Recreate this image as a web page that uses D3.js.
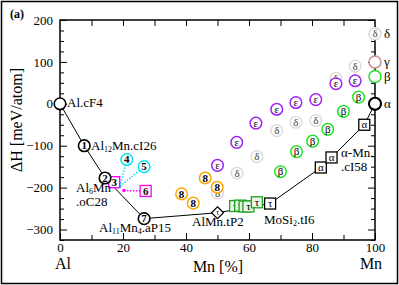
<!DOCTYPE html>
<html lang="en">
<head>
<meta charset="utf-8">
<title>Al-Mn formation enthalpy</title>
<script src="https://cdnjs.cloudflare.com/ajax/libs/d3/7.8.5/d3.min.js"></script>
<style>
  body { margin: 0; background: #fff; }
</style>
</head>
<body>
<script>
// data: [Mn %, dH meV/atom, label]
var hull = [[0, 0], [7.7, -100], [14.3, -177], [26.7, -274], [50, -260], [66.7, -238], [82.8, -152], [86.2, -128], [96.6, -50], [100, 0]];
var hullCircles = [[0, 0, ""], [7.7, -100, "1"], [14.3, -177, "2"], [26.7, -274, "7"], [100, 0, ""]];
var hullSquares = [[66.7, -238, "τ"], [82.8, -152, "α"], [86.2, -128, "α"], [96.6, -50, "α"]];
var diamond = [[50, -260, "τ"]];
var tauGreen = [[55.6, -244], [57.2, -243], [58.6, -245], [59.8, -245], [62.5, -235]];
var deltaPts = [[50, -213], [56.2, -165], [62.5, -126], [68.8, -64], [74.9, -44], [81.2, -40], [87.6, 61], [93.7, 90]];
var epsPts = [[50, -147], [56.1, -92], [62.2, -46], [68.8, -13], [74.9, 3], [81.2, 10], [87.6, 48], [93.7, 55]];
var betaPts = [[70, -162], [75.1, -114], [80.2, -89], [85, -61], [90, -18], [94.8, 16]];
var eightPts = [[38.6, -215], [42.3, -237], [46.1, -177], [49.9, -199]];
var cyanPts = [[21.2, -133, "4"], [26.7, -150, "5"]];
var magentaPts = [[17.2, -187, "3"], [27.2, -208, "6"]];
var cyanHub = [19, -197];
var magentaHub = [20.3, -207];
var edgePts = [[100, 167, "δ", "#d8d8d8"], [100, 100, "γ", "#c98f8f"], [100, 65, "β", "#22e022"], [100, 0, "α", "#000"]];
var xTicks = [0, 20, 40, 60, 80, 100];
var yTicks = [-300, -200, -100, 0, 100, 200];

var w = 399, h = 285;
var mLeft = 60, mRight = 375, mTop = 20, mBottom = 240;
var serif = "Liberation Serif, Times New Roman, Tinos, Noto Serif, DejaVu Serif, serif";

var svg = d3.select("body").append("svg").attr("width", w).attr("height", h);

var x = d3.scaleLinear().domain([0, 100]).range([mLeft, mRight]);
var y = d3.scaleLinear().domain([-325, 200]).range([mBottom, mTop]);

// outer frame
svg.append("rect").attr("x", 1.5).attr("y", 1.5).attr("width", w - 3).attr("height", h - 3)
   .attr("fill", "none").attr("stroke", "#000").attr("stroke-width", 1.5);

// axes, ticks pointing inward
function tidy(g) {
  g.attr("font-size", null);
  g.select(".domain").remove();
  g.selectAll("line").attr("stroke", "#000");
  g.selectAll("text").attr("fill", "#000").style("font-size", "13px");
}
var minorY = d3.range(-325, 200, 25).filter(function(v) { return v % 100 != 0; });

svg.append("g").attr("transform", "translate(0," + mBottom + ")")
   .call(d3.axisBottom(x).tickValues(xTicks).tickSize(-7).tickPadding(3)).call(tidy);
svg.append("g").attr("transform", "translate(0," + mBottom + ")")
   .call(d3.axisBottom(x).tickValues(d3.range(10, 100, 20)).tickSize(-5).tickFormat("")).call(tidy);
svg.append("g").attr("transform", "translate(0," + mTop + ")")
   .call(d3.axisTop(x).tickValues(d3.range(10, 100, 10)).tickSize(-6).tickFormat("")).call(tidy);

svg.append("g").attr("transform", "translate(" + mLeft + ",0)")
   .call(d3.axisLeft(y).tickValues(yTicks).tickSize(-7).tickPadding(7)).call(tidy);
svg.append("g").attr("transform", "translate(" + mLeft + ",0)")
   .call(d3.axisLeft(y).tickValues(minorY).tickSize(-4).tickFormat("")).call(tidy);
svg.append("g").attr("transform", "translate(" + mRight + ",0)")
   .call(d3.axisRight(y).tickValues(yTicks).tickSize(-7).tickFormat("")).call(tidy);
svg.append("g").attr("transform", "translate(" + mRight + ",0)")
   .call(d3.axisRight(y).tickValues(minorY).tickSize(-4).tickFormat("")).call(tidy);

svg.append("rect").attr("x", mLeft).attr("y", mTop).attr("width", mRight - mLeft).attr("height", mBottom - mTop)
   .attr("fill", "none").attr("stroke", "#000").attr("stroke-width", 1.5);

// axis titles
svg.append("text").attr("x", 10).attr("y", 18).text("(a)")
   .style("font-size", "12px").style("font-weight", "bold");
svg.append("text").attr("transform", "translate(22,120) rotate(-90)").attr("text-anchor", "middle")
   .style("font-size", "16px").text("ΔH  [meV/atom]");
svg.append("text").attr("x", 218).attr("y", 272).attr("text-anchor", "middle")
   .style("font-size", "16px").text("Mn  [%]");
svg.append("text").attr("x", 63).attr("y", 269).attr("text-anchor", "middle")
   .style("font-size", "16px").text("Al");
svg.append("text").attr("x", 371).attr("y", 269).attr("text-anchor", "middle")
   .style("font-size", "16px").text("Mn");

// dotted links
var plot = svg.append("g");
cyanPts.forEach(function(d) {
  plot.append("line").attr("x1", x(cyanHub[0])).attr("y1", y(cyanHub[1]))
      .attr("x2", x(d[0])).attr("y2", y(d[1]))
      .attr("stroke", "#00e5ee").attr("stroke-width", 1.5).attr("stroke-dasharray", "1.5,1.5");
});
plot.append("line").attr("x1", x(magentaHub[0])).attr("y1", y(magentaHub[1]))
    .attr("x2", x(magentaPts[1][0])).attr("y2", y(magentaPts[1][1]))
    .attr("stroke", "#ff00ff").attr("stroke-width", 1.5).attr("stroke-dasharray", "1.5,1.5");
plot.append("circle").attr("cx", x(cyanHub[0])).attr("cy", y(cyanHub[1])).attr("r", 1.8).attr("fill", "#00e5ee");
plot.append("circle").attr("cx", x(magentaHub[0])).attr("cy", y(magentaHub[1])).attr("r", 1.8).attr("fill", "#ff00ff");

// hull line
plot.append("path").datum(hull)
    .attr("d", d3.line().x(function(d) { return x(d[0]); }).y(function(d) { return y(d[1]); }))
    .attr("fill", "none").attr("stroke", "#000").attr("stroke-width", 1);

function circles(data, col, lab, bold, sw) {
  var g = plot.selectAll(null).data(data).enter().append("g")
      .attr("transform", function(d) { return "translate(" + x(d[0]) + "," + y(d[1]) + ")"; });
  g.append("circle").attr("r", 5.8).attr("fill", "#fff").attr("stroke", col).attr("stroke-width", sw || 1.5);
  g.append("text").attr("text-anchor", "middle").attr("dy", "0.33em")
   .style("font-size", "11px").style("font-weight", bold ? "bold" : "normal")
   .text(function(d) { return lab == null ? d[2] : lab; });
  return g;
}
function squares(data, col, lab, fill) {
  var g = plot.selectAll(null).data(data).enter().append("g")
      .attr("transform", function(d) { return "translate(" + x(d[0]) + "," + y(d[1]) + ")"; });
  g.append("rect").attr("x", -5.5).attr("y", -5.5).attr("width", 11).attr("height", 11)
   .attr("fill", fill || "#fff").attr("stroke", col).attr("stroke-width", 1.3);
  g.append("text").attr("text-anchor", "middle").attr("dy", "0.33em").style("font-size", "11px")
   .text(function(d) { return lab == null ? d[2] : lab; });
  return g;
}

circles(deltaPts, "#dcdcdc", "δ", false).select("text").attr("fill", "#444");
circles(epsPts, "#a020f0", "ε", false);
circles(betaPts, "#22e022", "β", false);
circles(eightPts, "#ffa500", "8", true);
circles(cyanPts, "#00e5ee", null, true);
squares(magentaPts, "#ff00ff", null).select("text").style("font-weight", "bold");
squares(tauGreen, "#1fa01f", "τ", "#e8f8e8");
squares(hullSquares, "#000", null);

var dg = plot.selectAll(null).data(diamond).enter().append("g")
    .attr("transform", function(d) { return "translate(" + x(d[0]) + "," + y(d[1]) + ")"; });
dg.append("path").attr("d", "M0,-6L6,0L0,6L-6,0Z").attr("fill", "#fff").attr("stroke", "#000").attr("stroke-width", 1.2);
dg.append("text").attr("text-anchor", "middle").attr("dy", "0.33em").style("font-size", "8px").text(function(d) { return d[2]; });

circles(hullCircles, "#000", null, true, 1.6);

// right edge phases
var eg = plot.selectAll(null).data(edgePts).enter().append("g")
    .attr("transform", function(d) { return "translate(" + x(d[0]) + "," + y(d[1]) + ")"; });
eg.append("circle").attr("r", 6).attr("fill", "#fff")
  .attr("stroke", function(d) { return d[3]; }).attr("stroke-width", function(d) { return d[2] == "α" ? 2 : 1.5; });
eg.append("text").attr("x", 9).attr("dy", "0.33em").style("font-size", "13px").text(function(d) { return d[2]; });
plot.append("text").attr("x", x(100)).attr("y", y(167)).attr("dy", "0.33em").attr("text-anchor", "middle")
    .style("font-size", "11px").attr("fill", "#444").text("δ");

// structure labels
function lab(px, py, parts) {
  var t = svg.append("text").attr("x", px).attr("y", py).style("font-size", "13px");
  parts.forEach(function(p) {
    var s = t.append("tspan").text(p[0]);
    if (p[1]) s.attr("baseline-shift", "-30%").style("font-size", "8px");
  });
}
lab(67, 107, [["Al.cF4"]]);
lab(91, 150, [["Al"], ["12", 1], ["Mn.cI26"]]);
lab(76, 192, [["Al"], ["6", 1], ["Mn"]]);
lab(76, 206, [[".oC28"]]);
lab(99, 232, [["Al"], ["11", 1], ["Mn"], ["4", 1], [".aP15"]]);
lab(192, 226, [["AlMn.tP2"]]);
lab(264, 224, [["MoSi"], ["2", 1], [".tI6"]]);
lab(341, 157, [["α-Mn."]]);
lab(341, 171, [[".cI58"]]);

// serif everywhere
svg.selectAll("g").attr("font-family", null);
svg.selectAll("text").attr("font-family", serif);
</script>
</body>
</html>
